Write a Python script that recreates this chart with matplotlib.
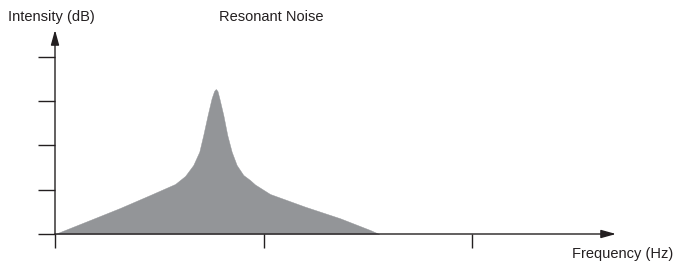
import matplotlib.pyplot as plt

plt.rcParams['font.family'] = ['Liberation Sans', 'DejaVu Sans']

# Espectro (frecuencia e intensidad en unidades de marca)
frecuencia = [0.000, 0.168, 0.312, 0.456, 0.576, 0.624, 0.663, 0.692, 0.711,
              0.732, 0.751, 0.763, 0.771, 0.779, 0.788, 0.807, 0.826, 0.847,
              0.871, 0.903, 0.935, 0.959, 1.031, 1.199, 1.367, 1.511, 1.554]
intensidad = [0.000, 0.316, 0.588, 0.881, 1.130, 1.311, 1.559, 1.860, 2.237,
              2.689, 3.067, 3.232, 3.277, 3.232, 3.067, 2.689, 2.237, 1.860,
              1.559, 1.333, 1.220, 1.119, 0.904, 0.617, 0.355, 0.090, 0.000]

ticks_x = [0, 1, 2]
ticks_y = [0, 1, 2, 3, 4]
xmax = 2.69
ymax = 4.61

gris = '#939598'
negro = '#231f20'

fig = plt.figure(figsize=(6.77, 2.65), dpi=100)
ax = fig.add_axes([55 / 677, 31 / 265, 561 / 677, 204 / 265])

ax.fill_between(frecuencia, intensidad, 0, color=gris, lw=0.3,
                edgecolor=gris, zorder=1)

ax.set_xlim(0, xmax)
ax.set_ylim(0, ymax)
for s in ax.spines.values():
    s.set_visible(False)

ax.set_xticks(ticks_x)
ax.set_yticks(ticks_y)
ax.set_xticklabels([])
ax.set_yticklabels([])
ax.tick_params(axis='x', direction='out', length=10, width=1, color=negro)
ax.tick_params(axis='y', direction='out', length=12, width=1, color=negro)

# ejes con flecha
flecha = dict(arrowstyle='-|>,head_length=0.9,head_width=0.25', color=negro,
              lw=1, shrinkA=0, shrinkB=0)
ax.annotate('', xy=(1, 0), xytext=(0, 0), xycoords='axes fraction',
            arrowprops=flecha, zorder=3)
ax.annotate('', xy=(0, 1), xytext=(0, 0), xycoords='axes fraction',
            arrowprops=flecha, zorder=3)

fig.text(8 / 677, 1 - 17 / 265, 'Intensity (dB)', fontsize=10.5, color=negro,
         ha='left', va='center')
fig.text(271 / 677, 1 - 17 / 265, 'Resonant Noise', fontsize=10.5, color=negro,
         ha='center', va='center')
fig.text(673 / 677, 1 - 254 / 265, 'Frequency (Hz)', fontsize=10.5, color=negro,
         ha='right', va='center')

fig.savefig('out.png', dpi=100)
